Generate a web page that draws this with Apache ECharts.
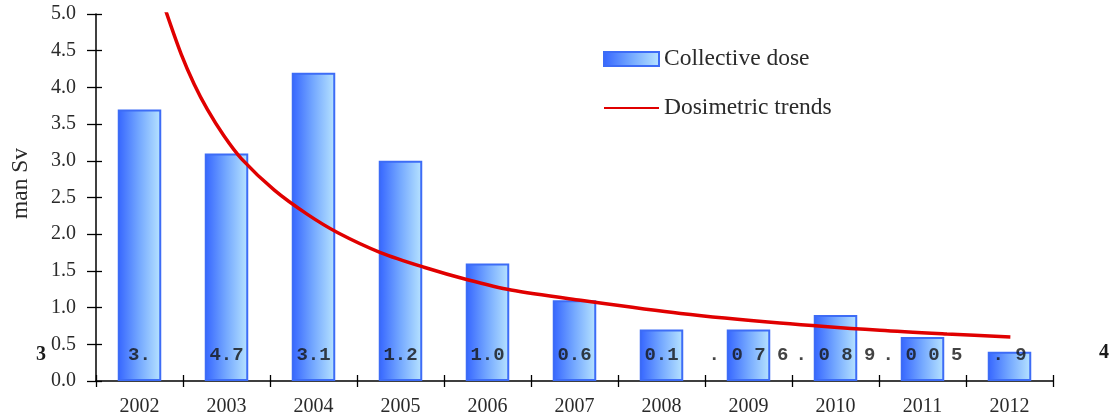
<!DOCTYPE html>
<html>
<head>
<meta charset="utf-8">
<script src="https://cdn.jsdelivr.net/npm/echarts@6/dist/echarts.min.js"></script>
<style>
  html, body { margin: 0; padding: 0; background: #ffffff; }
  #chart { width: 1110px; height: 419px; }
</style>
</head>
<body>
<div id="chart"></div>
<script>
// Years on the category axis
const years = ['2002', '2003', '2004', '2005', '2006', '2007', '2008', '2009', '2010', '2011', '2012'];

// Collective dose per year (man Sv)
const collectiveDose = [3.7, 3.1, 4.2, 3.0, 1.6, 1.1, 0.7, 0.7, 0.9, 0.6, 0.4];

// Dosimetric trend curve: positions in years and the trend value there (man Sv)
const trendYears = [2002.30, 2002.48, 2002.63, 2002.78, 2002.97, 2003.17, 2003.55, 2003.93, 2004.28,
                    2004.77, 2005.27, 2005.77, 2006.27, 2007.07, 2008.22, 2009.36, 2010.51, 2011.28, 2012.01];
const trendValues = [5.05, 4.45, 4.04, 3.70, 3.34, 3.03, 2.60, 2.27, 2.02,
                     1.75, 1.55, 1.38, 1.24, 1.10, 0.92, 0.79, 0.69, 0.64, 0.60];

// Table figures printed low inside the bars
const tableLabels = ['3.', '4.7', '3.1', '1.2', '1.0', '0.6', '0.1', '. 0 7 6', '. 0 8 9', '. 0 0 5', '. 9'];
const tableLabelLevel = 0.35;

// Value axis range
const yMin = 0;
const yMax = 5;
const yStep = 0.5;

const serif = '"Liberation Serif", "Times New Roman", serif';
const mono = '"Liberation Mono", "Courier New", monospace';
const textColor = '#2a2a2a';

const chart = echarts.init(document.getElementById('chart'), null, { renderer: 'canvas' });

const barFill = new echarts.graphic.LinearGradient(0, 0, 1, 0, [
  { offset: 0, color: '#3565ff' },
  { offset: 0.5, color: '#75a9ff' },
  { offset: 1, color: '#b8e4ff' }
]);

const option = {
  backgroundColor: '#ffffff',
  animation: false,
  grid: { left: 96, right: 57, top: 14, bottom: 38, containLabel: false },
  legend: {
    orient: 'vertical',
    left: 603,
    top: 47,
    padding: 0,
    itemWidth: 55,
    itemHeight: 14,
    itemGap: 25,
    data: [
      { name: 'Collective dose', icon: 'rect' },
      { name: 'Dosimetric trends', itemStyle: { opacity: 0 } }
    ],
    textStyle: { fontFamily: serif, fontSize: 23.5, color: textColor, lineHeight: 23 }
  },
  xAxis: [
    {
      type: 'category',
      data: years,
      boundaryGap: true,
      axisLine: { lineStyle: { color: '#000', width: 1.5 } },
      axisTick: { show: true, inside: false, length: 6, lineStyle: { color: '#000', width: 1.3 } },
      axisLabel: { fontFamily: serif, fontSize: 20, color: textColor, margin: 16 },
      splitLine: { show: false }
    },
    {
      type: 'category',
      data: years,
      position: 'bottom',
      boundaryGap: true,
      axisLine: { show: false },
      axisTick: { show: true, inside: true, length: 6, lineStyle: { color: '#000', width: 1.3 } },
      axisLabel: { show: false },
      splitLine: { show: false }
    },
    {
      // continuous year scale for the trend curve, aligned with the category bands
      type: 'value',
      min: 2001.5,
      max: 2012.5,
      show: false
    }
  ],
  yAxis: [
    {
      type: 'value',
      min: yMin,
      max: yMax,
      interval: yStep,
      position: 'left',
      name: 'man Sv',
      nameLocation: 'middle',
      nameGap: 63,
      nameRotate: 90,
      nameTextStyle: { fontFamily: serif, fontSize: 23.5, color: textColor, padding: [0, 0, 0, 28] },
      axisLine: { show: true, lineStyle: { color: '#000', width: 1.5 } },
      axisTick: { show: true, inside: false, length: 9, lineStyle: { color: '#000', width: 1.3 } },
      axisLabel: {
        fontFamily: serif, fontSize: 20, color: textColor, margin: 20,
        formatter: v => v.toFixed(1)
      },
      splitLine: { show: false }
    },
    {
      type: 'value',
      min: yMin,
      max: yMax,
      interval: yStep,
      position: 'left',
      axisLine: { show: false },
      axisTick: { show: true, inside: true, length: 6, lineStyle: { color: '#000', width: 1.3 } },
      axisLabel: { show: false },
      splitLine: { show: false }
    }
  ],
  series: [
    {
      name: 'Collective dose',
      type: 'bar',
      data: collectiveDose,
      barWidth: '50%',
      itemStyle: { color: barFill, borderColor: '#3d6cf6', borderWidth: 2 },
      z: 2
    },
    {
      name: 'table figures',
      type: 'scatter',
      data: years.map(y => [y, tableLabelLevel]),
      symbolSize: 0,
      silent: true,
      label: {
        show: true,
        position: 'inside',
        fontFamily: mono,
        fontWeight: 'bold',
        fontSize: 19,
        color: '#141414',
        formatter: p => tableLabels[p.dataIndex]
      },
      z: 4
    },
    {
      name: 'Dosimetric trends',
      type: 'line',
      xAxisIndex: 2,
      yAxisIndex: 0,
      data: trendYears.map((t, i) => [t, trendValues[i]]),
      smooth: 0.3,
      symbol: 'none',
      clip: true,
      lineStyle: { color: '#e00000', width: 3.5 },
      itemStyle: { color: '#e00000' },
      z: 5
    }
  ],
  graphic: [
    {
      type: 'text',
      left: 36,
      top: 345,
      style: { text: '3', fontFamily: serif, fontWeight: 'bold', fontSize: 20, fill: '#1a1a1a' }
    },
    {
      type: 'text',
      left: 1099,
      top: 343,
      style: { text: '4', fontFamily: serif, fontWeight: 'bold', fontSize: 20, fill: '#1a1a1a' }
    }
  ]
};

chart.setOption(option);
</script>
</body>
</html>
